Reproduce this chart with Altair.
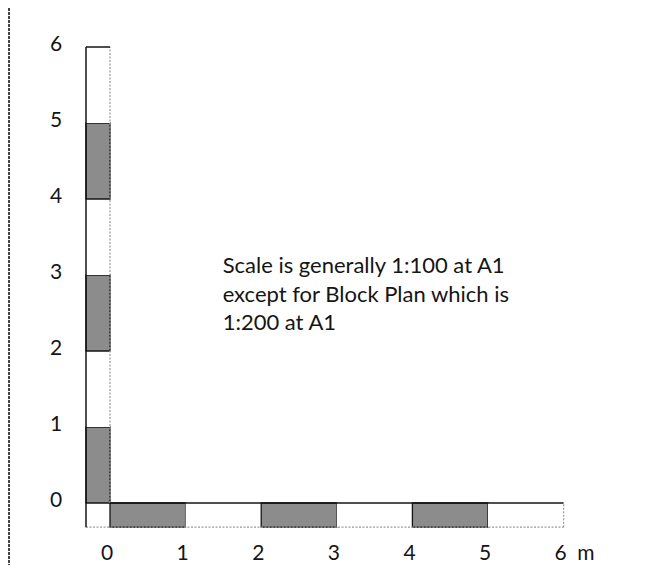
import altair as alt
import pandas as pd

# --- data -------------------------------------------------------------
seg_start = [0, 1, 2, 3, 4, 5]
seg_end = [1, 2, 3, 4, 5, 6]
shaded_v = [True, False, True, False, True, False]   # vertical bar, from 0 upward
shaded_h = [True, False, True, False, True, False]   # horizontal bar, from 0 rightward
y_ticks = [0, 1, 2, 3, 4, 5, 6]
y_tick_labels = ["0", "1", "2", "3", "4", "5", "6"]
x_ticks = [0, 1, 2, 3, 4, 5, 6]
x_tick_labels = ["0", "1", "2", "3", "4", "5", "6\u2002m"]
note_lines = ["Scale is generally 1:100 at A1",
              "except for Block Plan which is",
              "1:200 at A1"]

# --- layout constants -------------------------------------------------
W, H = 650, 557
KX, KY = 75.6, 76.0           # pixels per metre
X0_PX, Y0_PX = 102, 495       # where 0,0 sits inside the plot area
BAR = 24 / KX                 # bar thickness in metres
XMIN = -X0_PX / KX
XMAX = XMIN + W / KX
YMIN = -(H - Y0_PX) / KY
YMAX = Y0_PX / KY
NOTE_X, NOTE_Y = 1.49, 3.02
GRAY = "#8c8c8c"
INK = "#151515"
FONT = "Lato"

xs = alt.Scale(domain=[XMIN, XMAX], nice=False, zero=False)
ys = alt.Scale(domain=[YMIN, YMAX], nice=False, zero=False)

vert = pd.DataFrame({
    "x": -BAR, "x2": 0.0,
    "y": seg_start, "y2": seg_end,
    "shaded": shaded_v,
})
horiz = pd.DataFrame({
    "x": seg_start, "x2": seg_end,
    "y": -BAR, "y2": 0.0,
    "shaded": shaded_h,
})
segs = pd.concat([vert, horiz], ignore_index=True)
segs["fill"] = segs["shaded"].map({True: GRAY, False: "#ffffff"})

X = lambda f: alt.X(f, type="quantitative", scale=xs, axis=None)
Y = lambda f: alt.Y(f, type="quantitative", scale=ys, axis=None)

rects = alt.Chart(segs).mark_rect(stroke=INK, strokeWidth=1.3).encode(
    x=X("x"), x2="x2", y=Y("y"), y2="y2",
    fill=alt.Fill("fill:N", scale=None),
    strokeOpacity=alt.condition("datum.shaded", alt.value(1), alt.value(0)),
)

# outline lines: solid outer edges, dotted inner edges
lines = pd.DataFrame([
    {"x": -BAR, "x2": -BAR, "y": -BAR, "y2": 6, "solid": True},
    {"x": -BAR, "x2": 0, "y": 6, "y2": 6, "solid": True},
    {"x": 0, "x2": 6, "y": 0, "y2": 0, "solid": True},
    {"x": 0, "x2": 0, "y": 0, "y2": 6, "solid": False},
    {"x": -BAR, "x2": 6, "y": -BAR, "y2": -BAR, "solid": False},
    {"x": 6, "x2": 6, "y": -BAR, "y2": 0, "solid": False},
])
solid = alt.Chart(lines[lines.solid]).mark_rule(color=INK, strokeWidth=1.5).encode(
    x=X("x"), x2="x2", y=Y("y"), y2="y2")
dotted = alt.Chart(lines[~lines.solid]).mark_rule(
    color="#9a9a9a", strokeWidth=1.2, strokeDash=[2, 1.5]).encode(
    x=X("x"), x2="x2", y=Y("y"), y2="y2")

border = alt.Chart(pd.DataFrame({"v": [0]})).mark_rule(
    color="#444444", strokeWidth=2, strokeDash=[3, 1]).encode(
    x=alt.value(1), y=alt.value(0), y2=alt.value(H))

ylab = alt.Chart(pd.DataFrame({"v": y_ticks, "t": y_tick_labels})).mark_text(
    font=FONT, fontSize=21, color=INK, align="center", baseline="alphabetic", dy=3.5).encode(
    x=alt.value(48), y=Y("v"), text="t:N")

xlab = alt.Chart(pd.DataFrame({"v": x_ticks, "t": x_tick_labels})).mark_text(
    font=FONT, fontSize=21, color=INK, align="left", baseline="alphabetic", dx=-9).encode(
    x=X("v"), y=alt.value(552), text="t:N")

note = alt.Chart(pd.DataFrame({"x": [NOTE_X], "y": [NOTE_Y], "t": [note_lines]})).mark_text(
    font=FONT, fontSize=22, color=INK, align="left", baseline="alphabetic", lineHeight=28.5).encode(
    x=X("x"), y=Y("y"), text="t")

chart = alt.layer(rects, dotted, solid, border, ylab, xlab, note).properties(
    width=W, height=H, padding=0, autosize=alt.AutoSizeParams(type="none"),
    background="white",
).configure_view(stroke=None)

chart.save("out.html", embed_options={"renderer": "svg", "actions": False})
